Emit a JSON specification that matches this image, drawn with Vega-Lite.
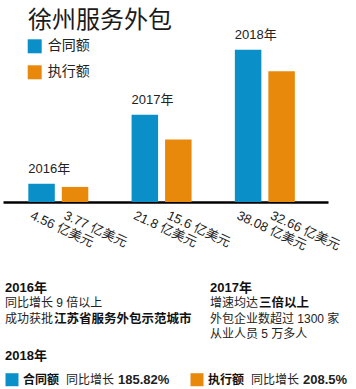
{
  "$schema": "https://vega.github.io/schema/vega-lite/v6.json",
  "width": 356,
  "height": 170,
  "autosize": {"type": "none"},
  "padding": {"left": 0, "right": 0, "top": 32, "bottom": 187},
  "background": "white",
  "title": {"text": "徐州服务外包", "anchor": "start", "frame": "group", "dx": 28, "dy": 10, "offset": 6, "fontSize": 24, "fontWeight": "normal", "font": "Noto Sans CJK SC", "color": "#1a1a1a"},
  "config": {
    "view": {"stroke": null},
    "font": "Liberation Sans, Noto Sans CJK SC",
    "axisX": {"domainColor": "#000000", "domainWidth": 2.5, "labels": false, "ticks": false, "grid": false}
  },
  "layer": [
    {
      "data": {"values": [
        {"year": "2016年", "type": "合同额", "value": 4.56, "label": "4.56 亿美元"},
        {"year": "2016年", "type": "执行额", "value": 3.77, "label": "3.77 亿美元"},
        {"year": "2017年", "type": "合同额", "value": 21.8, "label": "21.8 亿美元"},
        {"year": "2017年", "type": "执行额", "value": 15.6, "label": "15.6 亿美元"},
        {"year": "2018年", "type": "合同额", "value": 38.08, "label": "38.08 亿美元"},
        {"year": "2018年", "type": "执行额", "value": 32.66, "label": "32.66 亿美元"}
      ]},
      "layer": [
        {
          "mark": {"type": "bar"},
          "encoding": {
            "x": {"field": "year", "type": "nominal", "title": null, "scale": {"domain": ["2016年", "2017年", "2018年"], "range": [3, 328], "paddingInner": 0.419, "paddingOuter": 0.283, "align": 0.433}},
            "xOffset": {"field": "type", "type": "nominal", "scale": {"domain": ["合同额", "执行额"], "paddingInner": 0.209, "paddingOuter": 0}},
            "y": {"field": "value", "type": "quantitative", "axis": null, "scale": {"domain": [0, 42.5], "nice": false, "zero": true}},
            "color": {"field": "type", "type": "nominal", "scale": {"domain": ["合同额", "执行额"], "range": ["#0b8fc9", "#e8890c"]},
              "legend": {"title": null, "orient": "none", "legendX": 27.7, "legendY": 7.3, "symbolType": "square", "symbolSize": 196, "symbolStrokeWidth": 0, "symbolOpacity": 1, "labelFontSize": 14, "labelFont": "Noto Sans CJK SC", "labelColor": "#222222", "labelOffset": 6, "rowPadding": 12, "padding": 0}}
          }
        },
        {
          "transform": [{"filter": "datum.type === '合同额'"}],
          "mark": {"type": "text", "align": "left", "baseline": "alphabetic", "dx": -13.3, "dy": -11, "fontSize": 13, "color": "#222222"},
          "encoding": {
            "x": {"field": "year", "type": "nominal", "title": null},
            "xOffset": {"field": "type", "type": "nominal"},
            "y": {"field": "value", "type": "quantitative", "axis": null},
            "text": {"field": "year"}
          }
        },
        {
          "mark": {"type": "text", "angle": 25, "align": "left", "baseline": "top", "dx": -4, "dy": 10, "fontSize": 13, "color": "#222222"},
          "encoding": {
            "x": {"field": "year", "type": "nominal", "title": null},
            "xOffset": {"field": "type", "type": "nominal"},
            "y": {"datum": 0, "type": "quantitative", "axis": null},
            "text": {"field": "label"}
          }
        }
      ]
    },
    {
      "layer": [
        {
          "data": {"values": [
            {"section": "2016年", "line": 1, "text": "同比增长 9 倍以上"},
            {"section": "2016年", "line": 2, "text": "成功获批", "highlight": "江苏省服务外包示范城市"},
            {"section": "2017年", "line": 1, "text": "增速均达", "highlight": "三倍以上"},
            {"section": "2017年", "line": 2, "text": "外包企业数超过 1300 家"},
            {"section": "2017年", "line": 3, "text": "从业人员 5 万多人"}
          ]},
          "layer": [
            {
              "mark": {"type": "text", "align": "left", "baseline": "middle", "fontSize": 12, "color": "#222222"},
              "encoding": {
                "x": {"field": "section", "type": "nominal", "axis": null, "scale": {"type": "point", "domain": ["2016年", "2017年"], "range": [5, 210], "padding": 0}},
                "y": {"field": "line", "type": "quantitative", "axis": null, "scale": {"domain": [0, 3], "range": [255.5, 302], "nice": false, "zero": false}},
                "text": {"field": "text"}
              }
            },
            {
              "transform": [{"filter": "isValid(datum.highlight)"}],
              "mark": {"type": "text", "align": "left", "baseline": "middle", "dx": 49, "fontSize": 12.5, "fontWeight": "bold", "color": "#111111"},
              "encoding": {
                "x": {"field": "section", "type": "nominal", "axis": null},
                "y": {"field": "line", "type": "quantitative", "axis": null},
                "text": {"field": "highlight"}
              }
            },
            {
              "transform": [{"aggregate": [{"op": "count", "as": "n"}], "groupby": ["section"]}],
              "mark": {"type": "text", "align": "left", "baseline": "middle", "fontSize": 13, "fontWeight": "bold", "color": "#111111"},
              "encoding": {
                "x": {"field": "section", "type": "nominal", "axis": null},
                "y": {"datum": 0, "type": "quantitative", "axis": null},
                "text": {"field": "section"}
              }
            }
          ]
        },
        {
          "data": {"values": [
            {"type": "合同额", "rate": "185.82%"},
            {"type": "执行额", "rate": "208.5%"}
          ]},
          "layer": [
            {
              "mark": {"type": "point", "shape": "square", "size": 169, "filled": true, "opacity": 1, "strokeWidth": 0},
              "encoding": {
                "x": {"field": "type", "type": "nominal", "axis": null, "scale": {"type": "point", "domain": ["合同额", "执行额"], "range": [12, 197], "padding": 0}},
                "y": {"datum": 5.95, "type": "quantitative", "axis": null},
                "color": {"field": "type", "type": "nominal"}
              }
            },
            {
              "mark": {"type": "text", "align": "left", "baseline": "middle", "dx": 11, "fontSize": 12, "fontWeight": "bold", "color": "#111111"},
              "encoding": {
                "x": {"field": "type", "type": "nominal", "axis": null},
                "y": {"datum": 5.95, "type": "quantitative", "axis": null},
                "text": {"field": "type"}
              }
            },
            {
              "mark": {"type": "text", "align": "left", "baseline": "middle", "dx": 54, "fontSize": 12, "color": "#222222", "text": "同比增长"},
              "encoding": {
                "x": {"field": "type", "type": "nominal", "axis": null},
                "y": {"datum": 5.95, "type": "quantitative", "axis": null}
              }
            },
            {
              "mark": {"type": "text", "align": "left", "baseline": "middle", "dx": 106, "fontSize": 13, "fontWeight": 600, "color": "#222222"},
              "encoding": {
                "x": {"field": "type", "type": "nominal", "axis": null},
                "y": {"datum": 5.95, "type": "quantitative", "axis": null},
                "text": {"field": "rate"}
              }
            },
            {
              "transform": [{"filter": "datum.type === '合同额'"}],
              "mark": {"type": "text", "align": "left", "baseline": "middle", "dx": -7, "fontSize": 13, "fontWeight": "bold", "color": "#111111", "text": "2018年"},
              "encoding": {
                "x": {"field": "type", "type": "nominal", "axis": null},
                "y": {"datum": 4.45, "type": "quantitative", "axis": null}
              }
            }
          ]
        }
      ],
      "resolve": {"scale": {"x": "independent"}}
    }
  ],
  "resolve": {"scale": {"x": "independent", "y": "independent"}}
}
